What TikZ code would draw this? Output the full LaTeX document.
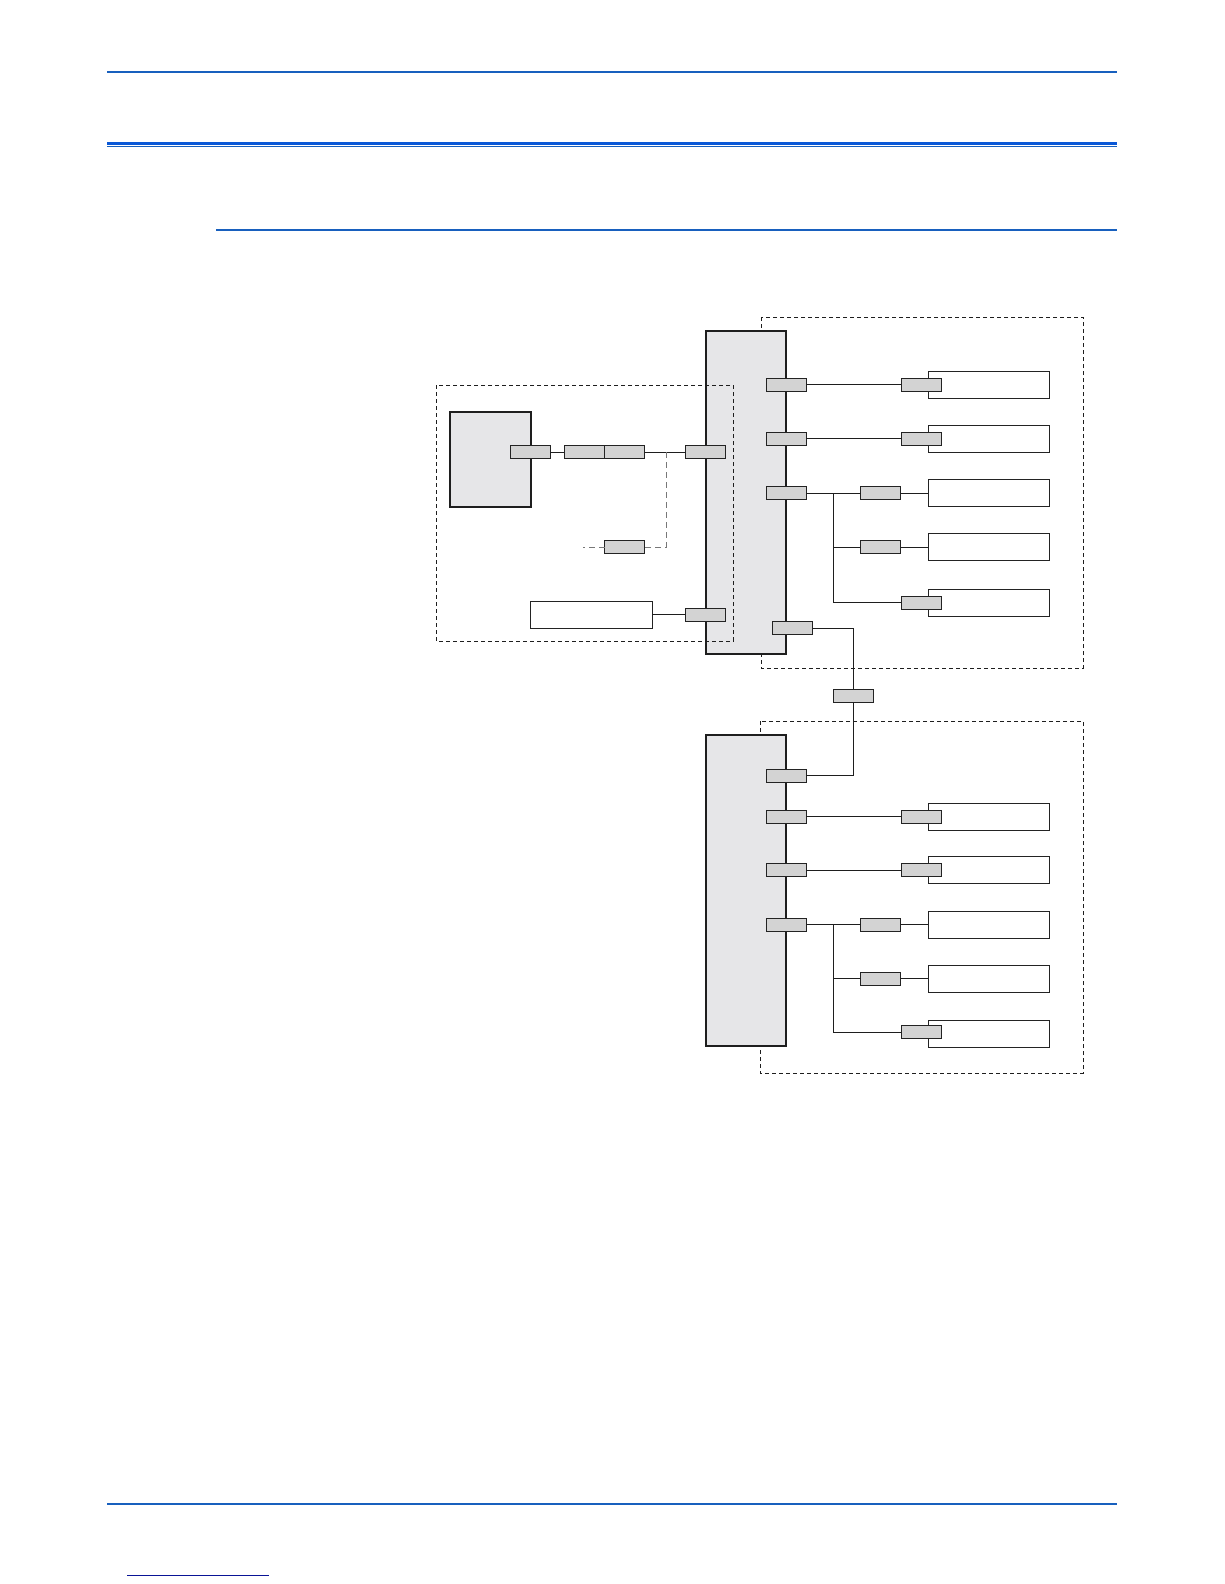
\documentclass[tikz,border=0pt]{standalone}
\begin{document}
\begin{tikzpicture}[x=1pt,y=-1pt,
  hdr/.style={draw={rgb,255:red,24;green,96;blue,190}, line width=2pt},
  hdrthick/.style={fill={rgb,255:red,10;green,88;blue,215}},
  linkline/.style={draw={rgb,255:red,10;green,20;blue,150}, line width=1pt},
  bigbox/.style={draw={rgb,255:red,30;green,30;blue,30}, fill={rgb,255:red,230;green,230;blue,232}, line width=2pt, inner sep=0pt, outer sep=0pt},
  conn/.style={draw={rgb,255:red,35;green,35;blue,35}, fill={rgb,255:red,211;green,211;blue,211}, line width=0.9pt, minimum width=40pt, minimum height=13pt, inner sep=0pt, outer sep=0pt},
  devbox/.style={draw={rgb,255:red,35;green,35;blue,35}, fill=white, line width=0.9pt, minimum width=121pt, minimum height=27pt, inner sep=0pt, outer sep=0pt},
  grp/.style={draw={rgb,255:red,30;green,30;blue,30}, line width=0.8pt, dash pattern=on 4pt off 3pt},
  wire/.style={draw={rgb,255:red,30;green,30;blue,30}, line width=0.9pt},
  optwire/.style={draw={rgb,255:red,120;green,120;blue,120}, line width=0.9pt, dash pattern=on 6pt off 4pt}
]
\useasboundingbox (0,0) rectangle (1224,1584);
\fill[white] (0,0) rectangle (1224,1584);

% page rules
\draw[hdr] (107,72) -- (1117,72);
\fill[hdrthick] (107,141.5) rectangle (1117,144.5);
\draw[hdr, line width=1pt] (107,146.5) -- (1117,146.5);
\draw[hdr] (216,230) -- (1117,230);
\draw[hdr] (107,1504) -- (1117,1504);
\draw[linkline] (127,1575) -- (269,1575);

% right-hand groups (behind the main boards)
\draw[grp] (761,317) rectangle (1083,668);
\draw[grp] (760,721) rectangle (1083,1073);

% main boards
\node[bigbox, minimum width=80pt, minimum height=323pt] (topb) at (746,492.5) {};
\node[bigbox, minimum width=80pt, minimum height=311pt] (botb) at (746,890.5) {};

% left group
\draw[grp] (436,385) rectangle (733,641);
\node[bigbox, minimum width=81pt, minimum height=95pt] (cpu) at (490.5,459.5) {};
\node[devbox, minimum width=122pt] (panel) at (591,614.5) {};

% ---------- wires ----------
% left group
\coordinate (jl) at (666,452);
\coordinate (jl2) at (666,547);
\coordinate (optend) at (583,547);
\node[conn] (cpuc) at (530,452) {};
\node[conn] (la) at (584,452) {};
\node[conn] (lb) at (624.5,452) {};
\node[conn] (lt1) at (705.5,452) {};
\node[conn] (lopt) at (624.5,547) {};
\node[conn] (lt2) at (705.5,614.5) {};
\draw[wire] (cpuc.east) -- (la.west);
\draw[wire] (lb.east) -- (lt1.west);
\draw[optwire] (jl) -- (jl2) -- (lopt.east);
\draw[optwire] (lopt.west) -- (optend);
\draw[wire] (panel.east) -- (lt2.west);

% top right devices
\node[devbox] (d1) at (988.5,384.5) {};
\node[devbox] (d2) at (988.5,438.5) {};
\node[devbox] (d3) at (988.5,493) {};
\node[devbox] (d4) at (988.5,547) {};
\node[devbox] (d5) at (988.5,602.5) {};
\node[conn] (t1) at (786,384.5) {};
\node[conn] (t2) at (786,438.5) {};
\node[conn] (t3) at (786,493) {};
\node[conn] (t4) at (792.5,628) {};
\node[conn] (e1) at (921,384.5) {};
\node[conn] (e2) at (921,438.5) {};
\node[conn] (m3) at (880.5,493) {};
\node[conn] (m4) at (880.5,547) {};
\node[conn] (e5) at (921,602.5) {};
\coordinate (jt3) at (833,493);
\coordinate (jt4) at (833,547);
\coordinate (jt5) at (833,602.5);
\draw[wire] (t1.east) -- (e1.west);
\draw[wire] (t2.east) -- (e2.west);
\draw[wire] (t3.east) -- (m3.west);
\draw[wire] (m3.east) -- (d3.west);
\draw[wire] (jt3) -- (jt5) -- (e5.west);
\draw[wire] (jt4) -- (m4.west);
\draw[wire] (m4.east) -- (d4.west);

% link between boards
\node[conn] (lk) at (853,695.5) {};
\coordinate (k1) at (853,628);
\coordinate (k2) at (853,775.5);
\node[conn] (b0) at (786,775.5) {};
\draw[wire] (t4.east) -- (k1) -- (lk.north);
\draw[wire] (lk.south) -- (k2) -- (b0.east);

% bottom right devices
\node[devbox] (f1) at (988.5,816.5) {};
\node[devbox] (f2) at (988.5,870) {};
\node[devbox] (f3) at (988.5,924.5) {};
\node[devbox] (f4) at (988.5,978.5) {};
\node[devbox] (f5) at (988.5,1033.5) {};
\node[conn] (b1) at (786,816.5) {};
\node[conn] (b2) at (786,870) {};
\node[conn] (b3) at (786,924.5) {};
\node[conn] (g1) at (921,816.5) {};
\node[conn] (g2) at (921,870) {};
\node[conn] (n3) at (880.5,924.5) {};
\node[conn] (n4) at (880.5,978.5) {};
\node[conn] (g5) at (921,1032) {};
\coordinate (jb3) at (833,924.5);
\coordinate (jb4) at (833,978.5);
\coordinate (jb5) at (833,1032);
\draw[wire] (b1.east) -- (g1.west);
\draw[wire] (b2.east) -- (g2.west);
\draw[wire] (b3.east) -- (n3.west);
\draw[wire] (n3.east) -- (f3.west);
\draw[wire] (jb3) -- (jb5) -- (g5.west);
\draw[wire] (jb4) -- (n4.west);
\draw[wire] (n4.east) -- (f4.west);
\end{tikzpicture}
\end{document}
